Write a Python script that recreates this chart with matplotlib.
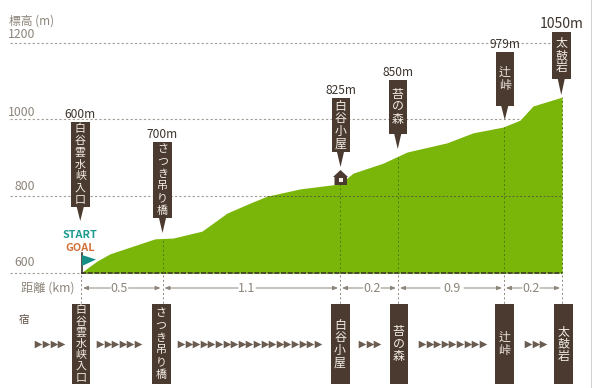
import matplotlib
matplotlib.use("Agg")
import matplotlib.pyplot as plt
import numpy as np
from matplotlib.patches import Polygon, Rectangle

plt.rcParams['font.family'] = ['Noto Sans CJK JP', 'DejaVu Sans']

# elevation profile, x is the position along the (not to scale) chart
profile_x = [81, 89, 97, 110, 133, 155, 173, 202, 227, 250, 267, 300, 340, 353, 383, 407, 447, 473, 503, 520, 533, 562]
profile_elev = [600, 616, 631, 650, 670, 689, 691, 709, 756, 782, 800, 819, 832, 860, 886, 915, 939, 965, 980, 998, 1035, 1058]
elev_ticks = [600, 800, 1000, 1200]

station_names = ['白谷雲水峡入口', 'さつき吊り橋', '白谷小屋', '苔の森', '辻峠', '太鼓岩']
station_heights = ['600m', '700m', '825m', '850m', '979m', '1050m']
station_x = [81, 162.5, 340, 398, 504, 562]
distances = ['0.5', '1.1', '0.2', '0.9', '0.2']
walk_arrows = [4, 6, 19, 3, 9, 3]

BROWN = '#4b3a2f'
GREY = '#8d857b'
GREEN = '#7ab60a'

# layout of the signs, in pixels: left, right, top, bottom, tip
top_signs = [(71, 89.5, 122, 207, 221), (153, 172, 142, 218, 233), (331.5, 349.5, 98, 152, 167),
             (388.5, 407, 80, 134, 149), (495.5, 514, 52, 106, 120), (552, 570.5, 32, 79, 95)]
bottom_signs = [(71.5, 90), (151.5, 170.5), (330.5, 349.5), (389.5, 408), (495, 513.5), (554, 572.5)]
height_label_y = [115, 134, 91, 73, 44, 24]
distance_label_x = [119.5, 247, 372, 452, 531]
arrow_start_x = [38.3, 100, 181, 362, 422, 528]

fig = plt.figure(figsize=(5.92, 3.88), dpi=100)

# elevation axes, same area as the whole figure
ax = fig.add_axes([0, 0, 1, 1])
ax.set_xlim(0, 592)
ax.set_ylim(600 - 115 * 200 / 76.8, 600 + 273 * 200 / 76.8)
ax.axis('off')
ax.fill_between(profile_x, 600, profile_elev, color=GREEN, lw=0, zorder=2)
for e in elev_ticks:
    ax.plot([10, 562], [e, e], color='#a39c92', lw=0.8, ls=(0, (2, 2)), zorder=1)
    if e == 800:
        ax.plot([267, 562], [e, e], color='#55603a', lw=0.7, ls=(0, (2, 2)), zorder=3)
ax.plot([81, 562], [600, 600], color='#3d3a28', lw=1.2, ls=(0, (3, 1)), zorder=3)
for x in station_x[1:]:
    ax.plot([x, x], [600, np.interp(x, profile_x, profile_elev)], color='#4f7a10', lw=0.7, ls=(0, (2, 2.5)), zorder=3)

# everything else is placed in pixels
px = fig.add_axes([0, 0, 1, 1])
px.set_xlim(0, 592)
px.set_ylim(388, 0)
px.axis('off')
px.patch.set_alpha(0)

px.plot([591.5, 591.5], [0, 388], color='#c8c8c8', lw=1.2)

px.text(9, 21, '標高 (m)', color=GREY, fontsize=8.5, va='center', ha='left')
for label, y in zip(['1200', '1000', '800', '600'], [35, 112, 186, 263]):
    px.text(35, y, label, color=GREY, fontsize=8.8, va='center', ha='right')
px.text(47.5, 288, '距離 (km)', color=GREY, fontsize=8.8, va='center', ha='center')
px.text(24, 320, '宿', color='#5a4a3f', fontsize=7.5, va='center', ha='center')

for x in station_x:
    px.plot([x, x], [275, 304], color=GREY, lw=0.7, ls=(0, (2, 2.5)), zorder=1)


def sign(name, l, r, t, b):
    px.add_patch(Rectangle((l, t), r - l, b - t, color=BROWN, lw=0, zorder=4))
    mid = (t + b) / 2
    # long names have to squeeze into the board
    size = 7.9 if len(name) > 5 else 8.6
    step = min(12.5, (b - t - 1) / len(name))
    for i, ch in enumerate(name):
        y = mid + (i - (len(name) - 1) / 2) * step
        px.text((l + r) / 2, y, ch, color='#f4efe8', fontsize=size, ha='center', va='center', zorder=5)


for i, name in enumerate(station_names):
    l, r, t, b, tip = top_signs[i]
    sign(name, l, r, t, b)
    c = (l + r) / 2
    px.add_patch(Polygon([(c - 3.5, b), (c + 3.5, b), (c, tip)], color=BROWN, lw=0, zorder=4))
    size = 10 if i == 5 else 8.6
    px.text(c, height_label_y[i], station_heights[i], color='#3c332c', fontsize=size, ha='center', va='center', zorder=5)
    l, r = bottom_signs[i]
    sign(name, l, r, 304, 384)

# distance row
for i, d in enumerate(distances):
    x0, x1 = station_x[i], station_x[i + 1]
    mid = distance_label_x[i]
    px.text(mid, 288, d, color=GREY, fontsize=9, ha='center', va='center')
    gap = 12 if d == '0.9' else 9
    for a, b in [(mid - gap, x0 + 2), (mid + gap, x1 - 2)]:
        px.annotate('', xy=(b, 288), xytext=(a, 288),
                    arrowprops=dict(arrowstyle='-|>,head_width=0.12,head_length=0.3', color=GREY, lw=0.7,
                                    shrinkA=0, shrinkB=0))

# walking chevrons
for start, n in zip(arrow_start_x, walk_arrows):
    xs = [start + 7.6 * k for k in range(n)]
    px.scatter(xs, [343.5] * n, marker='>', s=30, color='#6a5c50', lw=0, zorder=3)

# start flag
px.text(80, 235, 'START', color='#1c9a90', fontsize=7.8, fontweight='bold', ha='center', va='center')
px.text(80, 248, 'GOAL', color='#d2703a', fontsize=7.8, fontweight='bold', ha='center', va='center')
px.plot([81.5, 81.5], [253, 273], color='#3b332c', lw=1.2, zorder=5)
px.add_patch(Polygon([(82, 255), (96, 259.5), (82, 266)], color='#158f86', lw=0, zorder=5))

# hut at 白谷小屋
px.add_patch(Polygon([(333, 177), (340.5, 170), (348, 177), (347, 177), (347, 185), (334.5, 185), (334.5, 177)],
                     color=BROWN, lw=0, zorder=5))
px.add_patch(Rectangle((339, 178), 3.5, 3.5, color='#f4efe8', lw=0, zorder=6))

fig.savefig('out.png', dpi=100)
